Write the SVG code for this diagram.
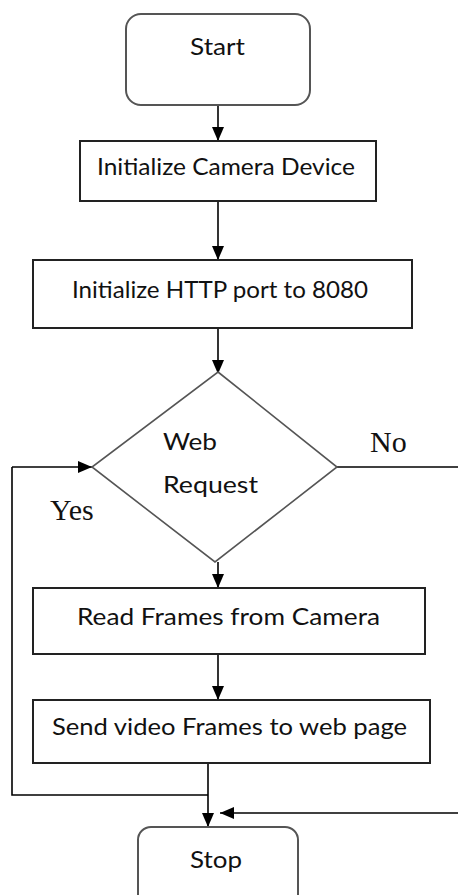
<svg xmlns="http://www.w3.org/2000/svg" width="458" height="895" viewBox="0 0 458 895">
  <defs>
    <marker id="arrow" viewBox="0 0 14 12" refX="14" refY="6" markerWidth="14" markerHeight="12" markerUnits="userSpaceOnUse" orient="auto">
      <path d="M0,0 L14,6 L0,12 Z" fill="#000"/>
    </marker>
    <style>
      .terminal { fill: #fff; stroke: #555; stroke-width: 2; }
      .process { fill: #fff; stroke: #222; stroke-width: 2; }
      .decision { fill: #fff; stroke: #555; stroke-width: 1.6; }
      .label { font-family: Lato, "Open Sans", sans-serif; font-size: 24px; fill: #111; }
      .answer { font-family: "Liberation Serif", "Times New Roman", serif; font-size: 30px; fill: #111; }
      .flow { fill: none; stroke: #000; stroke-width: 1.6; }
      .flow-arrow { fill: none; stroke: #000; stroke-width: 1.6; marker-end: url(#arrow); }
    </style>
  </defs>

  <rect width="458" height="895" fill="#fff"/>

  <!-- connectors -->
  <g id="connectors">
    <line class="flow-arrow" x1="218" y1="105" x2="218" y2="141"/>
    <line class="flow-arrow" x1="218" y1="201" x2="218" y2="260"/>
    <line class="flow-arrow" x1="218" y1="328" x2="218" y2="374"/>
    <line class="flow-arrow" x1="218" y1="562" x2="218" y2="588"/>
    <line class="flow-arrow" x1="218" y1="654" x2="218" y2="700"/>
    <!-- yes branch loops back into the decision -->
    <polyline class="flow" points="208,795 12,795 12,467"/>
    <line class="flow-arrow" x1="12" y1="467" x2="92" y2="467"/>
    <!-- no branch leaves to the right and comes back to stop -->
    <line class="flow" x1="337" y1="467" x2="458" y2="467"/>
    <line class="flow-arrow" x1="458" y1="813" x2="220" y2="813"/>
    <line class="flow-arrow" x1="208" y1="763" x2="208" y2="827"/>
  </g>

  <g id="start">
    <rect class="terminal" x="126" y="14" width="184" height="91" rx="15" ry="15"/>
    <text class="label" x="190" y="55" textLength="55" lengthAdjust="spacingAndGlyphs">Start</text>
  </g>

  <g id="init-camera">
    <rect class="process" x="80" y="141" width="296" height="60"/>
    <text class="label" x="97" y="175" textLength="258" lengthAdjust="spacingAndGlyphs">Initialize Camera Device</text>
  </g>

  <g id="init-http">
    <rect class="process" x="33" y="260" width="379" height="68"/>
    <text class="label" x="72" y="298" textLength="296" lengthAdjust="spacingAndGlyphs">Initialize HTTP port to 8080</text>
  </g>

  <g id="web-request">
    <polygon class="decision" points="218,372 337,467 215,562 92,467"/>
    <text class="label" x="163" y="450" textLength="54" lengthAdjust="spacingAndGlyphs">Web</text>
    <text class="label" x="163" y="493" textLength="95" lengthAdjust="spacingAndGlyphs">Request</text>
  </g>

  <g id="branch-labels">
    <text class="answer" x="370" y="452">No</text>
    <text class="answer" x="50" y="520">Yes</text>
  </g>

  <g id="read-frames">
    <rect class="process" x="33" y="588" width="392" height="66"/>
    <text class="label" x="77" y="625" textLength="303" lengthAdjust="spacingAndGlyphs">Read Frames from Camera</text>
  </g>

  <g id="send-frames">
    <rect class="process" x="33" y="700" width="397" height="63"/>
    <text class="label" x="52" y="735" textLength="355" lengthAdjust="spacingAndGlyphs">Send video Frames to web page</text>
  </g>

  <g id="stop">
    <rect class="terminal" x="138" y="827" width="160" height="80" rx="13" ry="13"/>
    <text class="label" x="190" y="868" textLength="52" lengthAdjust="spacingAndGlyphs">Stop</text>
  </g>
</svg>
